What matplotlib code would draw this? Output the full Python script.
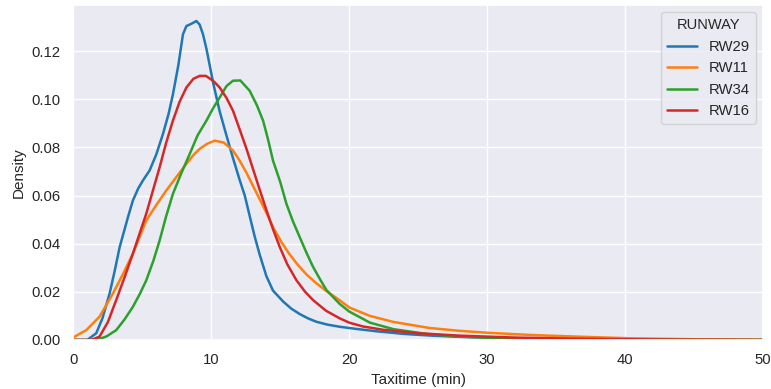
import numpy as np
import matplotlib
matplotlib.use("Agg")
import matplotlib.pyplot as plt
import seaborn as sns

# Density curves of taxi time per runway (minutes vs. density)
rw29_x = [0, 1.0, 1.65, 2.1, 2.62, 3.0, 3.35, 3.95, 4.31, 4.7, 5.04, 5.52, 6.0, 6.49,
          6.9, 7.21, 7.6, 7.94, 8.19, 8.6, 8.91, 9.15, 9.39, 9.64, 9.9, 10.12, 10.36,
          10.6, 11.09, 11.57, 12.05, 12.42, 12.8, 13.14, 13.5, 13.99, 14.47, 15.2, 15.8,
          16.4, 17.0, 17.6, 18.4, 19.3, 20.5, 22.0, 24.0, 26.0, 28.0, 31.0, 35.0, 40.0,
          45.0, 50.0]
rw29_d = [0.0, 0.0, 0.0028, 0.009, 0.0193, 0.029, 0.0386, 0.051, 0.058, 0.063, 0.0663,
          0.0704, 0.077, 0.0856, 0.094, 0.102, 0.114, 0.127, 0.1304, 0.1315, 0.1325,
          0.131, 0.127, 0.121, 0.1135, 0.107, 0.101, 0.095, 0.085, 0.0755, 0.0665,
          0.060, 0.051, 0.043, 0.0355, 0.0265, 0.0205, 0.0160, 0.0130, 0.0108, 0.0090,
          0.0076, 0.0064, 0.0055, 0.0046, 0.0036, 0.0025, 0.0018, 0.0013, 0.0008,
          0.0004, 0.0002, 0.0001, 0.0]

rw11_x = [0, 0.93, 1.89, 2.86, 3.6, 4.31, 5.28, 6.0, 6.73, 7.5, 8.19, 8.7, 9.15,
          9.7, 10.24, 10.9, 11.57, 12.0, 12.54, 13.02, 13.5, 14.0, 14.47, 15.1, 15.68,
          16.3, 16.9, 17.6, 18.35, 19.3, 20.0, 21.5, 23.2, 25.8, 28.0, 30.0, 33.1,
          36.5, 40.4, 45.0, 50.0]
rw11_d = [0.0011, 0.0041, 0.0097, 0.0193, 0.0275, 0.0359, 0.0497, 0.056, 0.0621,
          0.068, 0.0732, 0.0768, 0.0794, 0.0815, 0.0828, 0.082, 0.0787, 0.0750,
          0.0695, 0.0640, 0.0585, 0.0527, 0.0469, 0.0405, 0.0355, 0.0310, 0.0272,
          0.0236, 0.0203, 0.0165, 0.0135, 0.0100, 0.0075, 0.0050, 0.0038, 0.0030,
          0.0021, 0.0014, 0.0007, 0.0003, 0.0001]

rw34_x = [0, 1.65, 2.4, 3.1, 3.7, 4.31, 4.8, 5.28, 5.8, 6.25, 6.7, 7.21, 7.8, 8.43,
          9.0, 9.64, 10.1, 10.6, 11.1, 11.57, 12.1, 12.78, 13.3, 13.75, 14.1, 14.47,
          15.0, 15.44, 15.9, 16.4, 16.9, 17.37, 17.9, 18.35, 19.3, 20.0, 21.5, 23.2,
          25.5, 28.0, 31.0, 35.0, 40.0, 50.0]
rw34_d = [0.0, 0.0, 0.0015, 0.0041, 0.0085, 0.0138, 0.019, 0.0248, 0.033, 0.0414,
          0.051, 0.0607, 0.069, 0.0773, 0.085, 0.0911, 0.096, 0.1007, 0.1055,
          0.1077, 0.1078, 0.1035, 0.0975, 0.0911, 0.0835, 0.0745, 0.0655, 0.0566,
          0.0495, 0.0428, 0.0362, 0.0304, 0.0250, 0.0207, 0.0150, 0.0118, 0.0072,
          0.0045, 0.0026, 0.0014, 0.0007, 0.0003, 0.0001, 0.0]

rw16_x = [0, 1.3, 1.89, 2.5, 3.1, 3.7, 4.31, 5.28, 6.25, 6.7, 7.21, 7.7, 8.19, 8.7,
          9.15, 9.6, 10.12, 10.6, 11.1, 11.57, 12.05, 12.54, 13.02, 13.5, 13.99,
          14.47, 14.96, 15.5, 16.17, 16.8, 17.37, 18.3, 19.3, 20.0, 21.0, 22.5, 25.0,
          28.0, 32.0, 37.0, 42.0, 50.0]
rw16_d = [0.0, 0.0, 0.0014, 0.0075, 0.0166, 0.026, 0.0359, 0.0525, 0.0718, 0.0815,
          0.0911, 0.0990, 0.1049, 0.1085, 0.1097, 0.1097, 0.1077, 0.1049, 0.1005,
          0.0952, 0.0875, 0.0795, 0.0710, 0.0625, 0.0540, 0.0460, 0.0386, 0.0315,
          0.0248, 0.0200, 0.0166, 0.0122, 0.0090, 0.0072, 0.0056, 0.0042, 0.0028,
          0.0018, 0.0010, 0.0005, 0.0002, 0.0]

series = [("RW29", rw29_x, rw29_d),
          ("RW11", rw11_x, rw11_d),
          ("RW34", rw34_x, rw34_d),
          ("RW16", rw16_x, rw16_d)]

sns.set_theme(style="darkgrid")
plt.rcParams["font.family"] = ["Liberation Sans", "DejaVu Sans"]
colors = sns.color_palette("tab10")

fig = plt.figure(figsize=(7.71, 3.89), dpi=100)
ax = fig.add_axes([0.0953, 0.126, 0.8943, 0.861])

for (name, xs, ds), c in zip(series, colors):
    ax.plot(xs, ds, color=c, lw=1.8, label=name)

ax.set_xlim(0, 50)
peak = max(max(s[2]) for s in series)
ax.set_ylim(0, peak * 1.05)
ax.set_xlabel("Taxitime (min)", fontsize=11, labelpad=4)
ax.set_ylabel("Density", fontsize=11)
ax.set_yticks([0.0, 0.02, 0.04, 0.06, 0.08, 0.10, 0.12])
ax.set_yticklabels(["0.00", "0.02", "0.04", "0.06", "0.08", "0.10", "0.12"])
ax.tick_params(labelsize=10.7)
ax.legend(title="RUNWAY", loc="upper right", fontsize=10.7, title_fontsize=10.5)

fig.savefig("out.png", dpi=100)
